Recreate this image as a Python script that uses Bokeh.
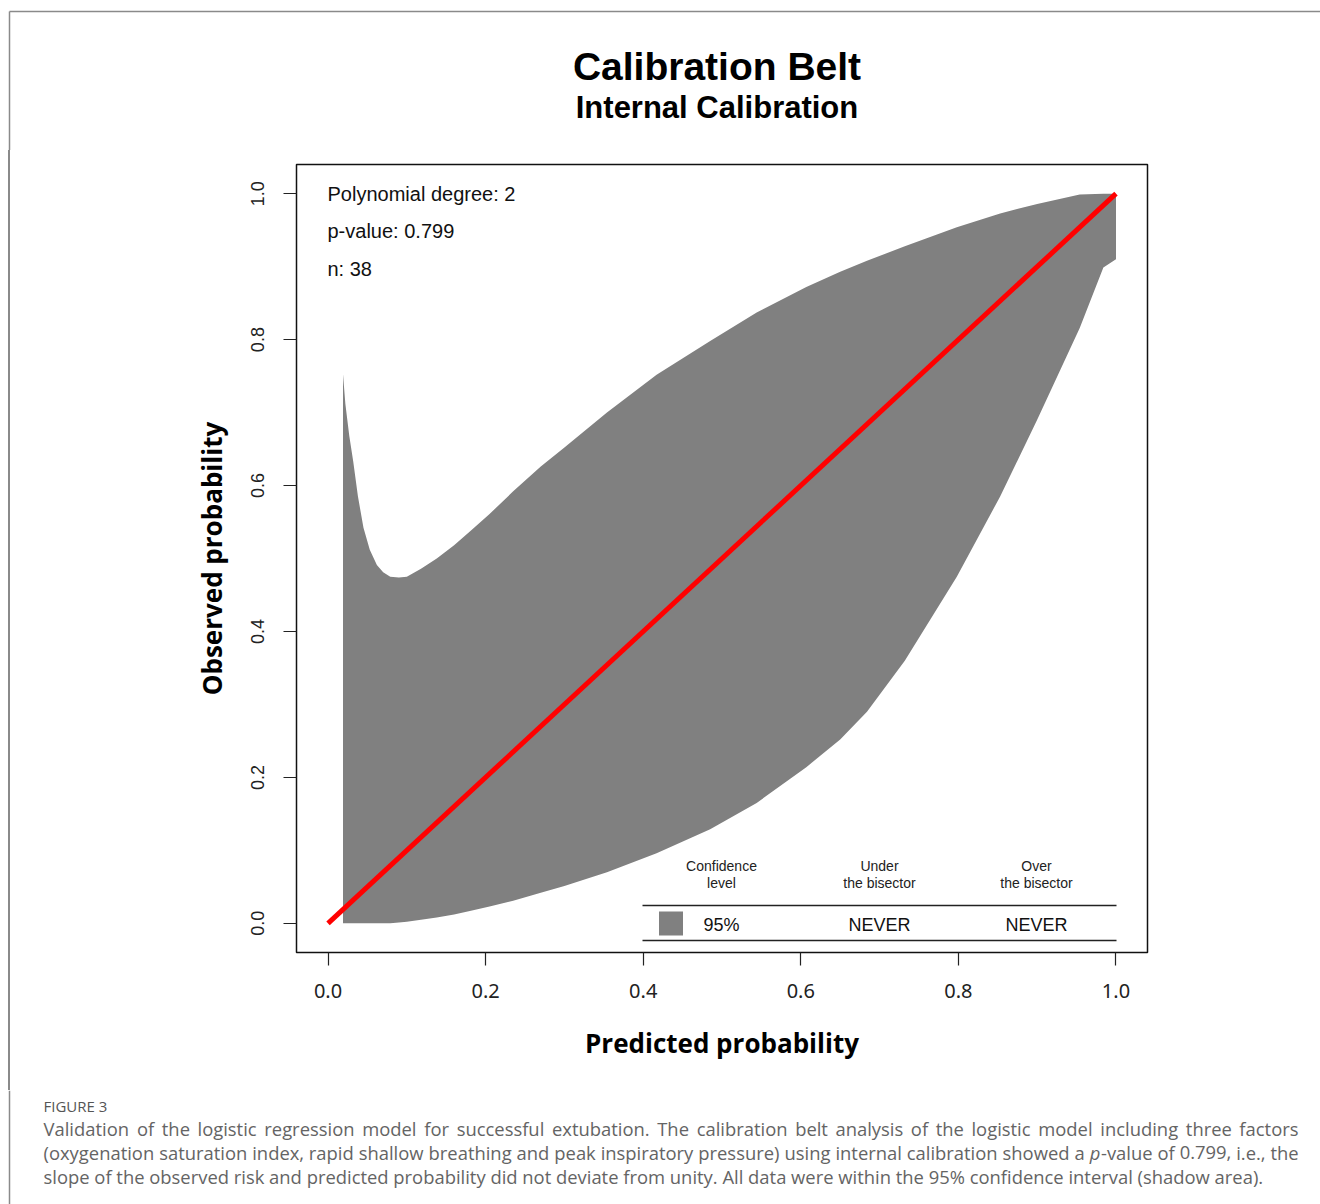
from bokeh.plotting import figure
from bokeh.layouts import column, row
from bokeh.models import Range1d, FixedTicker, NumeralTickFormatter, Label, Div
from bokeh.core.properties import value
from bokeh.embed import file_html
from bokeh.resources import INLINE

# ---------------- data ----------------
belt_x = [0.019, 0.022, 0.027, 0.032, 0.038, 0.045, 0.053, 0.062, 0.070, 0.079,
          0.090, 0.100, 0.118, 0.138, 0.160, 0.180, 0.205, 0.235, 0.270, 0.300,
          0.354, 0.417, 0.485, 0.544, 0.607, 0.650, 0.684, 0.732, 0.798, 0.853,
          0.900, 0.954, 0.984, 1.000]
belt_upper = [0.753, 0.712, 0.668, 0.633, 0.585, 0.542, 0.512, 0.491, 0.481, 0.475,
              0.474, 0.475, 0.486, 0.500, 0.518, 0.537, 0.561, 0.592, 0.626, 0.652,
              0.700, 0.752, 0.798, 0.837, 0.872, 0.893, 0.908, 0.928, 0.954, 0.973,
              0.986, 0.999, 1.000, 1.000]
belt_lower = [0.000, 0.000, 0.000, 0.000, 0.000, 0.000, 0.000, 0.000, 0.000, 0.000,
              0.001, 0.002, 0.005, 0.008, 0.012, 0.017, 0.023, 0.031, 0.042, 0.051,
              0.070, 0.096, 0.129, 0.165, 0.214, 0.252, 0.290, 0.360, 0.475, 0.585,
              0.690, 0.816, 0.899, 0.910]
bisector_x = [0.0, 1.0]
bisector_y = [0.0, 1.0]
x_ticks = [0.0, 0.2, 0.4, 0.6, 0.8, 1.0]
y_ticks = [0.0, 0.2, 0.4, 0.6, 0.8, 1.0]
stats_lines = ["Polynomial degree: 2", "p-value: 0.799", "n: 38"]
table_headers = [["Confidence", "level"], ["Under", "the bisector"], ["Over", "the bisector"]]
table_row = ["95%", "NEVER", "NEVER"]
title_main = "Calibration Belt"
title_sub = "Internal Calibration"
caption_head = "FIGURE 3"
caption_lines = [
    "Validation of the logistic regression model for successful extubation. The calibration belt analysis of the logistic model including three factors",
    "(oxygenation saturation index, rapid shallow breathing and peak inspiratory pressure) using internal calibration showed a p-value of 0.799, i.e., the",
    "slope of the observed risk and predicted probability did not deviate from unity. All data were within the 95% confidence interval (shadow area).",
]

# ---------------- page geometry (page pixels) ----------------
PAGE_W = 1320
TOP_H, MAIN_H, BOT_H = 150, 940, 114
STRIP_W = 20
FRAME_L, FRAME_R, FRAME_T, FRAME_B = 296, 1147, 164, 952
XMIN, XMAX, YMIN, YMAX = -0.04, 1.04, -0.04, 1.04
BORDER_X, BORDER_Y = 9, 11
BORDER_COLOR = "#8a8a8a"


def X(px):  # page pixel -> data x of main plot
    return XMIN + (px - FRAME_L) * (XMAX - XMIN) / (FRAME_R - FRAME_L)


def Y(py):  # page pixel -> data y of main plot
    return YMAX - (py - FRAME_T) * (YMAX - YMIN) / (FRAME_B - FRAME_T)


def blank(w, h):
    f = figure(width=w, height=h, output_backend="svg", toolbar_location=None,
               x_range=Range1d(0, w), y_range=Range1d(h, 0),
               min_border=0, x_axis_location=None, y_axis_location=None)
    f.grid.visible = False
    f.outline_line_color = None
    f.background_fill_color = "white"
    f.border_fill_color = "white"
    return f


# ---------------- top (titles) ----------------
top = blank(PAGE_W, TOP_H)
top.line([BORDER_X, PAGE_W], [BORDER_Y, BORDER_Y], line_color=BORDER_COLOR, line_width=1.5)
top.line([BORDER_X, BORDER_X], [BORDER_Y, TOP_H], line_color=BORDER_COLOR, line_width=1.5)
top.text(x=[716.5], y=[66], text=[title_main], text_font=value("Liberation Sans"),
         text_font_style="bold", text_font_size="39px", text_align="center",
         text_baseline="middle", text_color="black")
top.text(x=[716.5], y=[107], text=[title_sub], text_font=value("Liberation Sans"),
         text_font_style="bold", text_font_size="31px", text_align="center",
         text_baseline="middle", text_color="black")

# ---------------- left strip (page border line) ----------------
strip = Div(text=f'<div style="margin:0 0 0 {BORDER_X - 1}px;width:1.5px;height:{MAIN_H}px;'
                 f'background:{BORDER_COLOR}"></div>', width=STRIP_W, height=MAIN_H,
            margin=(0, 0, 0, 0), styles={"padding": "0", "margin": "0"})

# ---------------- main plot ----------------
MW = PAGE_W - STRIP_W
p = figure(width=MW, height=MAIN_H, output_backend="svg", toolbar_location=None,
           x_range=Range1d(XMIN, XMAX), y_range=Range1d(YMIN, YMAX),
           min_border_left=FRAME_L - STRIP_W, min_border_right=PAGE_W - FRAME_R,
           min_border_top=FRAME_T - TOP_H, min_border_bottom=TOP_H + MAIN_H - FRAME_B)
p.background_fill_color = "white"
p.border_fill_color = "white"
p.outline_line_color = "#111111"
p.outline_line_width = 1.5
p.grid.visible = False

p.xaxis.ticker = FixedTicker(ticks=x_ticks)
p.yaxis.ticker = FixedTicker(ticks=y_ticks)
p.xaxis.formatter = NumeralTickFormatter(format="0.0")
p.yaxis.formatter = NumeralTickFormatter(format="0.0")
for ax in (p.xaxis[0], p.yaxis[0]):
    ax.axis_line_color = None
    ax.major_tick_in = 0
    ax.major_tick_out = 13
    ax.major_tick_line_color = "#222222"
    ax.major_tick_line_width = 1.2
    ax.minor_tick_line_color = None
    ax.axis_label_text_font = "Open Sans"
    ax.axis_label_text_font_style = "bold"
    ax.axis_label_text_font_size = "26px"
    ax.axis_label_text_color = "black"
p.xaxis.major_label_text_font = "Noto Sans"
p.xaxis.major_label_text_font_size = "20px"
p.xaxis.major_label_text_color = "#222222"
p.xaxis.major_label_standoff = 18
p.xaxis.axis_label = "Predicted probability"
p.xaxis.axis_label_standoff = 24
p.yaxis.major_label_orientation = "vertical"
p.yaxis.major_label_text_font = "Liberation Sans"
p.yaxis.major_label_text_font_size = "18px"
p.yaxis.major_label_text_color = "#222222"
p.yaxis.major_label_standoff = 19
p.yaxis.axis_label = "Observed probability"
p.yaxis.axis_label_standoff = 19

p.varea(x=belt_x, y1=belt_lower, y2=belt_upper, fill_color="#808080")
p.line(bisector_x, bisector_y, line_color="#ff0000", line_width=5)


def add_text(px, py, text, size, font="Liberation Sans", style="normal",
             align="center", color="#111111"):
    p.add_layout(Label(x=X(px), y=Y(py), text=text, text_font=font,
                       text_font_size=f"{size}px", text_font_style=style,
                       text_align=align, text_baseline="middle", text_color=color))


for i, t in enumerate(stats_lines):
    add_text(327, 193 + 37.5 * i, t, 20, align="left")

col_px = [721, 879, 1036]
for cx, hdr in zip(col_px, table_headers):
    add_text(cx, 865, hdr[0], 14, color="#222222")
    add_text(cx, 882, hdr[1], 14, color="#222222")
for cx, t in zip(col_px, table_row):
    add_text(cx, 924, t, 18)
p.segment(x0=[X(642), X(642)], y0=[Y(905), Y(940)], x1=[X(1116), X(1116)],
          y1=[Y(905), Y(940)], line_color="#222222", line_width=1.5)
p.scatter(x=[X(670.5)], y=[Y(923)], marker="square", size=24,
          fill_color="#808080", line_color=None)

# ---------------- caption ----------------
bot = blank(PAGE_W, BOT_H)
bot.line([BORDER_X, BORDER_X], [0, BOT_H], line_color=BORDER_COLOR, line_width=1.5)
Y0 = TOP_H + MAIN_H
CAP_FONT = value("Open Sans")
CAP_COLOR = "#646464"
bot.text(x=[43], y=[1105 - Y0], text=[caption_head], text_font=CAP_FONT,
         text_font_size="15px", text_align="left", text_baseline="middle",
         text_color="#555555")

# approximate Open Sans advance widths (em) used to justify the caption lines
CW = {" ": 0.26, "a": 0.556, "b": 0.613, "c": 0.48, "d": 0.613, "e": 0.561, "f": 0.336,
      "g": 0.546, "h": 0.613, "i": 0.252, "j": 0.252, "k": 0.521, "l": 0.252, "m": 0.93,
      "n": 0.613, "o": 0.604, "p": 0.613, "q": 0.613, "r": 0.408, "s": 0.477, "t": 0.353,
      "u": 0.613, "v": 0.5, "w": 0.775, "x": 0.523, "y": 0.5, "z": 0.468, "(": 0.297,
      ")": 0.297, ",": 0.246, ".": 0.266, "-": 0.322, "%": 0.813, "A": 0.633, "T": 0.556,
      "V": 0.612}


def em(s):
    return sum(CW.get(ch, 0.572) for ch in s)


CAP_L, CAP_R = 43, 1298
cap_fs = 1220 / em(caption_lines[2])
for i, line in enumerate(caption_lines):
    ly = 1128 + 24 * i - Y0
    if i == len(caption_lines) - 1:
        bot.text(x=[CAP_L], y=[ly], text=[line], text_font=CAP_FONT,
                 text_font_size=f"{cap_fs:.2f}px", text_align="left",
                 text_baseline="middle", text_color=CAP_COLOR)
        continue
    words = line.split(" ")
    total = sum(em(w) for w in words) * cap_fs
    gap = (CAP_R - CAP_L - total) / (len(words) - 1)
    xs, ws, styles = [], [], []
    cx = CAP_L
    for w in words:
        if w == "p-value":
            xs += [cx, cx + em("p") * cap_fs]
            ws += ["p", "-value"]
            styles += ["italic", "normal"]
        else:
            xs.append(cx)
            ws.append(w)
            styles.append("normal")
        cx += em(w) * cap_fs + gap
    for st in ("normal", "italic"):
        sx = [x for x, s in zip(xs, styles) if s == st]
        sw = [w for w, s in zip(ws, styles) if s == st]
        if sx:
            bot.text(x=sx, y=[ly] * len(sx), text=sw, text_font=CAP_FONT,
                     text_font_style=st, text_font_size=f"{cap_fs:.2f}px",
                     text_align="left", text_baseline="middle", text_color=CAP_COLOR)

layout = column(top, row(strip, p), bot)
open("out.html", "w").write(file_html(layout, INLINE))
